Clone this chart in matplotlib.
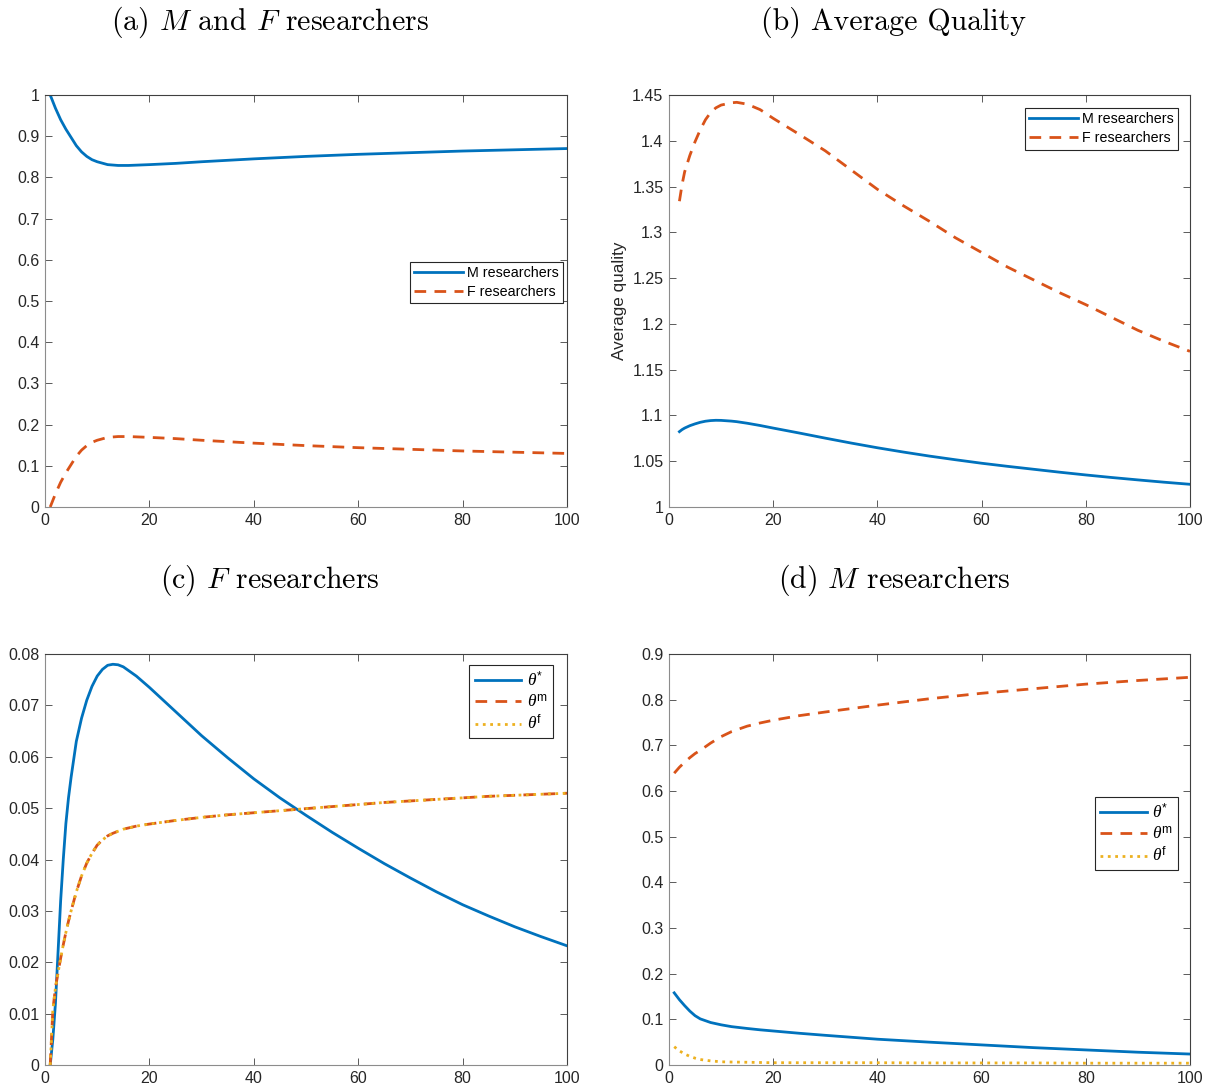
import matplotlib
matplotlib.use("Agg")
import matplotlib.pyplot as plt
from matplotlib.font_manager import FontProperties
from matplotlib.ticker import FuncFormatter

plt.rcParams['font.family'] = ['Liberation Sans', 'DejaVu Sans']
plt.rcParams['xtick.direction'] = 'in'
plt.rcParams['ytick.direction'] = 'in'
# custom math font: serif italic theta, sans upright superscripts
plt.rcParams['mathtext.rm'] = 'Liberation Sans'
plt.rcParams['mathtext.it'] = 'Liberation Serif:italic'

blue = '#0072BD'
orange = '#D95319'
yellow = '#EDB120'

# (a) share of M and F researchers
xa = [1, 2, 3, 4, 5, 6, 7, 8, 9, 10, 12, 14, 16, 18, 20, 25, 30, 40, 50, 60, 70, 80, 90, 100]
m_share = [1.0, 0.968, 0.940, 0.917, 0.897, 0.877, 0.862, 0.851, 0.843, 0.838, 0.831, 0.829,
           0.829, 0.830, 0.831, 0.834, 0.838, 0.845, 0.851, 0.856, 0.860, 0.864, 0.867, 0.870]
f_share = [0.0, 0.032, 0.060, 0.083, 0.103, 0.123, 0.138, 0.149, 0.157, 0.162, 0.169, 0.171,
           0.171, 0.170, 0.169, 0.166, 0.162, 0.155, 0.149, 0.144, 0.140, 0.136, 0.133, 0.130]

# (b) average quality
xb = [2, 2.5, 3, 4, 5, 6, 7, 8, 9, 10, 12, 13, 15, 17.5, 20, 25, 30, 35, 40, 45, 50, 55,
      60, 65, 70, 75, 80, 85, 90, 95, 100]
m_quality = [1.0823, 1.0845, 1.0862, 1.0888, 1.0908, 1.0925, 1.0937, 1.0944, 1.0947, 1.0946,
             1.0938, 1.0932, 1.0915, 1.0890, 1.0862, 1.0808, 1.0752, 1.0698, 1.0647, 1.0600,
             1.0556, 1.0516, 1.0478, 1.0444, 1.0412, 1.0380, 1.0350, 1.0322, 1.0296, 1.0271,
             1.0248]
f_quality = [1.334, 1.352, 1.366, 1.384, 1.399, 1.412, 1.423, 1.431, 1.436, 1.439, 1.4415,
             1.442, 1.440, 1.434, 1.4245, 1.407, 1.389, 1.368, 1.347, 1.329, 1.312, 1.294,
             1.278, 1.262, 1.248, 1.234, 1.221, 1.207, 1.193, 1.181, 1.170]

# (c) F researchers thresholds
xc = [1, 1.5, 2, 2.5, 3, 3.5, 4, 4.5, 5, 6, 7, 8, 9, 10, 11, 12, 13, 14, 15, 17.5, 20, 25,
      30, 35, 40, 45, 50, 55, 60, 65, 70, 75, 80, 85, 90, 95, 100]
c_star = [0.0, 0.005, 0.012, 0.022, 0.032, 0.040, 0.047, 0.052, 0.056, 0.063, 0.0675, 0.071,
          0.0737, 0.0757, 0.0770, 0.0778, 0.0780, 0.0779, 0.0775, 0.0757, 0.0735, 0.0688,
          0.0641, 0.0598, 0.0557, 0.0520, 0.0486, 0.0453, 0.0422, 0.0392, 0.0364, 0.0337,
          0.0312, 0.0290, 0.0269, 0.0250, 0.0232]
c_m = [0.0, 0.0107, 0.0150, 0.0180, 0.0208, 0.0234, 0.0258, 0.0280, 0.0300, 0.0337, 0.0368,
       0.0393, 0.0412, 0.0428, 0.0438, 0.0446, 0.0451, 0.0455, 0.0459, 0.0465, 0.0469, 0.0476,
       0.0482, 0.0487, 0.0491, 0.0495, 0.0499, 0.0503, 0.0507, 0.0511, 0.0514, 0.0517, 0.0520,
       0.0523, 0.0525, 0.0527, 0.0529]
c_f = c_m

# (d) M researchers thresholds
xd = [1, 2, 3, 4, 5, 6, 8, 10, 12, 15, 17.5, 20, 25, 30, 40, 50, 60, 70, 80, 90, 100]
d_star = [0.158, 0.143, 0.130, 0.118, 0.108, 0.101, 0.093, 0.088, 0.084, 0.080, 0.077, 0.0745,
          0.0695, 0.065, 0.0565, 0.050, 0.044, 0.038, 0.033, 0.028, 0.024]
d_m = [0.639, 0.652, 0.663, 0.673, 0.682, 0.689, 0.705, 0.719, 0.730, 0.742, 0.749, 0.755,
       0.765, 0.773, 0.788, 0.802, 0.814, 0.824, 0.834, 0.842, 0.849]
d_f = [0.040, 0.031, 0.024, 0.019, 0.015, 0.012, 0.009, 0.007, 0.0065, 0.006, 0.0055, 0.005,
       0.005, 0.005, 0.005, 0.0045, 0.0045, 0.0045, 0.004, 0.004, 0.004]

W, H = 1207, 1088
fig = plt.figure(figsize=(W / 100, H / 100), dpi=100)


def make_axes(x0, y_top, x1, y_bot):
    return fig.add_axes([x0 / W, 1 - y_bot / H, (x1 - x0) / W, (y_bot - y_top) / H])


def style(ax, yticks):
    ax.set_xlim(0, 100)
    ax.set_xticks([0, 20, 40, 60, 80, 100])
    ax.set_ylim(yticks[0], yticks[-1])
    ax.set_yticks(yticks)
    ax.yaxis.set_major_formatter(FuncFormatter(lambda v, p: '%g' % round(v, 4)))
    ax.tick_params(top=True, right=True, length=5, width=0.6, color='#404040',
                   labelsize=11.5, labelcolor='#262626', pad=4)
    for s in ['left', 'bottom']:
        ax.spines[s].set_color('#8c8c8c')
    for s in ['top', 'right']:
        ax.spines[s].set_color('#404040')
    for s in ax.spines.values():
        s.set_linewidth(0.8)


def legend(ax, anchor, prop, hl=3.4, spacing=0.35):
    leg = ax.legend(loc='upper right', bbox_to_anchor=anchor, borderaxespad=0,
                    fancybox=False, framealpha=1, edgecolor='#262626', prop=prop,
                    handlelength=hl, handletextpad=0.3, labelspacing=spacing,
                    borderpad=0.3)
    leg.get_frame().set_linewidth(0.8)


lw = 2.0
dash = (4.2, 3.0)
leg_font = FontProperties(family='Liberation Sans', size=10.3)
theta_font = FontProperties(family='Liberation Sans', size=12.5, math_fontfamily='custom')

ax1 = make_axes(45, 95, 567, 507)
ax1.plot(xa, m_share, color=blue, lw=lw, label='M researchers')
ax1.plot(xa, f_share, color=orange, lw=lw, dashes=dash, label='F researchers')
style(ax1, [0, 0.1, 0.2, 0.3, 0.4, 0.5, 0.6, 0.7, 0.8, 0.9, 1])
legend(ax1, (0.993, 0.595), leg_font)

ax2 = make_axes(669, 95, 1190, 507)
ax2.plot(xb, m_quality, color=blue, lw=lw, label='M researchers')
ax2.plot(xb, f_quality, color=orange, lw=lw, dashes=dash, label='F researchers')
style(ax2, [1, 1.05, 1.1, 1.15, 1.2, 1.25, 1.3, 1.35, 1.4, 1.45])
ax2.set_ylabel('Average quality', fontsize=12.3, color='#262626', labelpad=4)
legend(ax2, (0.977, 0.968), leg_font)

ax3 = make_axes(45, 654, 567, 1065)
ax3.plot(xc, c_star, color=blue, lw=lw, label=r'$\theta^{*}$')
ax3.plot(xc, c_m, color=orange, lw=lw, dashes=dash, label=r'$\theta^{\mathrm{m}}$')
ax3.plot(xc, c_f, color=yellow, lw=lw, linestyle=':', label=r'$\theta^{\mathrm{f}}$')
style(ax3, [0, 0.01, 0.02, 0.03, 0.04, 0.05, 0.06, 0.07, 0.08])
legend(ax3, (0.973, 0.973), theta_font, hl=2.7, spacing=0.2)

ax4 = make_axes(669, 654, 1190, 1065)
ax4.plot(xd, d_star, color=blue, lw=lw, label=r'$\theta^{*}$')
ax4.plot(xd, d_m, color=orange, lw=lw, dashes=dash, label=r'$\theta^{\mathrm{m}}$')
ax4.plot(xd, d_f, color=yellow, lw=lw, linestyle=':', label=r'$\theta^{\mathrm{f}}$')
style(ax4, [0, 0.1, 0.2, 0.3, 0.4, 0.5, 0.6, 0.7, 0.8, 0.9])
legend(ax4, (0.977, 0.652), theta_font, hl=2.7, spacing=0.2)

title_font = dict(fontsize=21.5, family='cmr10', math_fontfamily='cm', ha='center', va='center')
fig.text(270 / W, 1 - 22 / H, r'(a) $M$ and $F$ researchers', **title_font)
fig.text(894 / W, 1 - 22 / H, '(b) Average Quality', **title_font)
fig.text(270 / W, 1 - 580 / H, r'(c) $F$ researchers', **title_font)
fig.text(894 / W, 1 - 580 / H, r'(d) $M$ researchers', **title_font)

fig.savefig('out.png', dpi=100)
